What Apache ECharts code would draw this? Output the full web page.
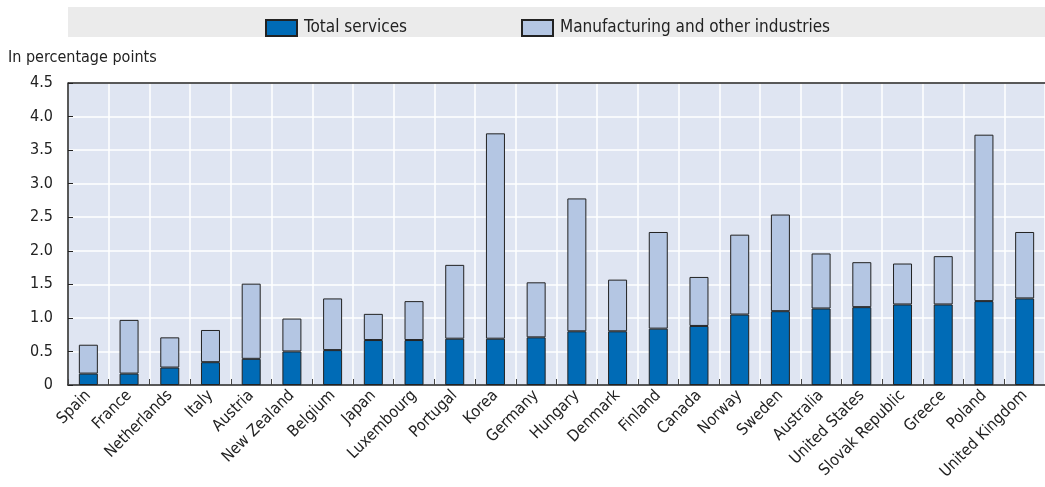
<!DOCTYPE html>
<html>
<head>
<meta charset="utf-8">
<script src="https://cdn.jsdelivr.net/npm/echarts@6/dist/echarts.min.js"></script>
<style>
html,body{margin:0;padding:0;background:#fff;}
#chart{width:1045px;height:487px;}
</style>
</head>
<body>
<div id="chart"></div>
<script>
const categories = ["Spain","France","Netherlands","Italy","Austria","New Zealand","Belgium","Japan","Luxembourg","Portugal","Korea","Germany","Hungary","Denmark","Finland","Canada","Norway","Sweden","Australia","United States","Slovak Republic","Greece","Poland","United Kingdom"];
const totalServices = [0.17,0.17,0.26,0.34,0.39,0.50,0.52,0.67,0.67,0.69,0.69,0.71,0.80,0.80,0.84,0.88,1.05,1.10,1.14,1.16,1.20,1.20,1.25,1.29];
const totalHeight = [0.60,0.97,0.71,0.82,1.51,0.99,1.29,1.06,1.25,1.79,3.75,1.53,2.78,1.57,2.28,1.61,2.24,2.54,1.96,1.83,1.81,1.92,3.73,2.28];
const manufacturing = totalHeight.map((t,i)=>+(t-totalServices[i]).toFixed(2));
const yTicks = [0,0.5,1,1.5,2,2.5,3,3.5,4,4.5];
const seriesNames = ["Total services","Manufacturing and other industries"];

const FONT = "'Liberation Sans Narrow','Arial Narrow','DejaVu Sans Condensed',sans-serif";
const chart = echarts.init(document.getElementById('chart'), null, {renderer:'canvas'});
chart.setOption({
  animation:false,
  backgroundColor:'#ffffff',
  textStyle:{fontFamily:FONT},
  graphic:[
    {type:'rect', shape:{x:68,y:7,width:977,height:30}, style:{fill:'#EBEBEB'}, z:-10},
    {type:'text', left:8, top:50, style:{text:'In percentage points', font:"16px "+FONT, fill:'#222'}}
  ],
  legend:[
    {data:[seriesNames[0]], left:260, top:14, itemWidth:31, itemHeight:16, itemGap:0, icon:'rect',
     textStyle:{fontSize:17, color:'#222', fontFamily:FONT, padding:[0,0,0,2]}},
    {data:[seriesNames[1]], left:516, top:14, itemWidth:31, itemHeight:16, itemGap:0, icon:'rect',
     textStyle:{fontSize:17, color:'#222', fontFamily:FONT, padding:[0,0,0,2]}}
  ],
  grid:{left:68, right:0, top:83, bottom:102, show:true, backgroundColor:'#DFE5F2', borderWidth:0},
  xAxis:{
    type:'category', data:categories, boundaryGap:true,
    axisLine:{show:true, lineStyle:{color:'#222', width:1.5}},
    axisTick:{show:true, inside:true, length:6, lineStyle:{color:'#444'}},
    splitLine:{show:true, lineStyle:{color:'#ffffff', width:1.5}},
    axisLabel:{rotate:45, fontSize:16, color:'#222', fontFamily:FONT, margin:8, interval:0}
  },
  yAxis:{
    type:'value', min:0, max:4.5, interval:0.5,
    axisLine:{show:true, lineStyle:{color:'#222', width:1.5}},
    axisTick:{show:true, inside:true, length:5, lineStyle:{color:'#222'}},
    splitLine:{show:true, lineStyle:{color:'#ffffff', width:1.5}},
    axisLabel:{fontSize:16, color:'#222', fontFamily:FONT, margin:15,
      formatter:v=>v===0?'0':v.toFixed(1)}
  },
  series:[
    {name:seriesNames[0], type:'bar', stack:'a', data:totalServices, barWidth:19,
     itemStyle:{color:'#006BB6', borderColor:'#222', borderWidth:1}},
    {name:seriesNames[1], type:'bar', stack:'a', data:manufacturing, barWidth:19,
     itemStyle:{color:'#B4C6E3', borderColor:'#222', borderWidth:1}},
    {type:'line', data:[], markLine:{silent:true, symbol:'none', label:{show:false},
      lineStyle:{color:'#222', width:1.5, type:'solid'}, data:[{yAxis:4.5}]}}
  ]
});
</script>
</body>
</html>
